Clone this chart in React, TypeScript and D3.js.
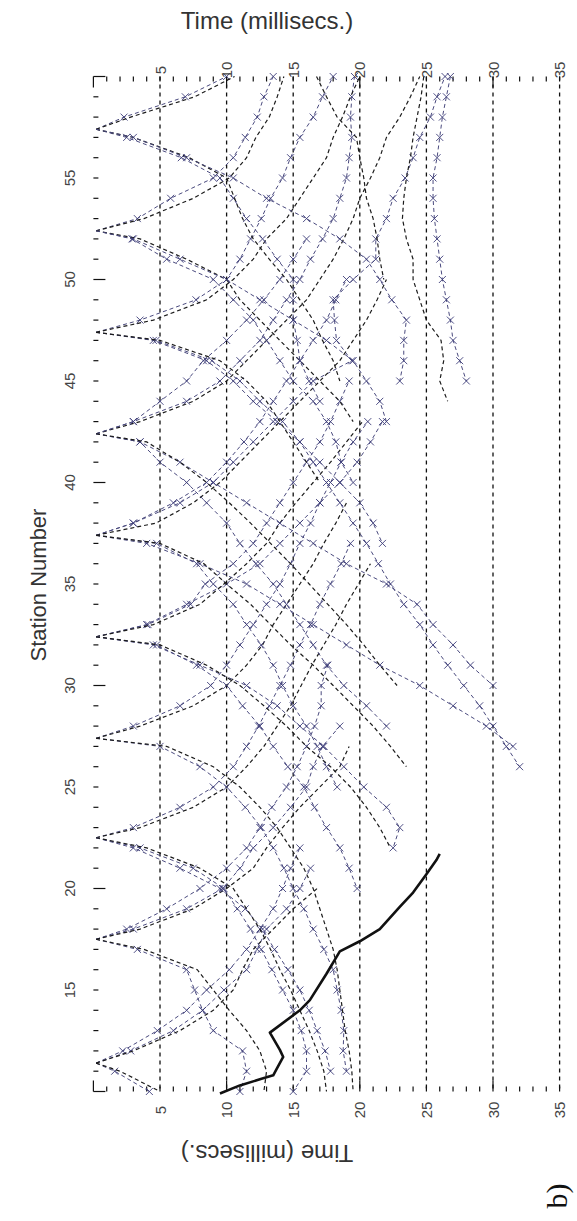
import React from "react";
import * as d3 from "d3";

type Branch = { kind: "b" | "k"; apex?: number; start: number; dir: 1 | -1; t: number[] };

// travel-time picks: times (ms) at consecutive stations
const shot11: Branch[] = [
  { kind: "b", apex: 11.4, start: 12, dir: 1, t: [2.2, 4.8, 7.0, 8.5, 10.2, 11.5, 12.5, 13.5, 14.2, 14.8, 15.5] },
  { kind: "b", apex: 11.4, start: 12, dir: 1, t: [2.8, 6.0, 8.2, 9.8, 11.5, 12.3, 13.0, 14.5, 15.5, 16.3] },
  { kind: "k", apex: 11.4, start: 12, dir: 1, t: [3.0, 6.5, 9.0, 10.5, 11.2, 12.0, 13.5, 15.0, 16.8] },
  { kind: "b", apex: 11.4, start: 11, dir: -1, t: [1.6, 4.2] },
  { kind: "k", apex: 11.4, start: 11, dir: -1, t: [2.0, 5.0] },
];

const shot17: Branch[] = [
  { kind: "b", apex: 17.5, start: 18, dir: 1, t: [2.5, 5.5, 8.0, 10.0, 11.5, 12.5, 13.4, 14.5, 15.3, 16.0, 16.6, 17.1, 17.1, 17.6] },
  { kind: "b", apex: 17.5, start: 18, dir: 1, t: [3.0, 7.0, 9.7, 11.0, 12.0, 13.5, 14.8, 16.0, 16.5, 17.2, 18.5] },
  { kind: "k", apex: 17.5, start: 18, dir: 1, t: [3.5, 7.5, 10.0, 12.0, 13.0, 14.2, 15.5, 17.0, 18.5, 19.2] },
  { kind: "b", apex: 17.5, start: 17, dir: -1, t: [3.3, 7.0, 7.6, 8.2, 9.0, 11.2, 11.5, 11.0] },
  { kind: "k", apex: 17.5, start: 17, dir: -1, t: [3.8, 7.8, 9.0, 10.2, 11.5, 12.5, 13.0, 12.8] },
];

const shot22: Branch[] = [
  { kind: "b", apex: 22.5, start: 23, dir: 1, t: [3.0, 6.5, 9.0, 10.5, 11.5, 12.4, 13.2, 14.0, 14.8, 15.5, 16.3, 17.0, 17.8, 18.6, 19.3] },
  { kind: "k", apex: 22.5, start: 23, dir: 1, t: [3.5, 7.5, 10.0, 11.5, 12.8, 13.8, 14.8, 15.6, 16.4, 17.3, 18.2, 19.0, 19.9, 20.8] },
  { kind: "b", apex: 22.5, start: 22, dir: -1, t: [3.5, 7.5, 9.8, 10.8, 11.8, 12.6, 13.4, 14.2, 15.0, 15.6, 16.0, 16.0, 15.0] },
  { kind: "b", apex: 22.5, start: 22, dir: -1, t: [3.0, 6.5, 9.5, 11.4, 12.7, 13.6, 14.6, 15.5, 16.2, 16.8, 17.4, 17.8] },
  { kind: "k", apex: 22.5, start: 22, dir: -1, t: [4.0, 8.0, 10.5, 11.5, 12.5, 13.3, 14.0, 14.8, 15.5, 16.2, 16.8, 17.3, 17.5] },
];

const shot27: Branch[] = [
  { kind: "b", apex: 27.4, start: 28, dir: 1, t: [3.0, 6.5, 8.8, 10.0, 11.0, 12.0, 13.0, 14.0, 14.8, 15.5, 16.3, 17.0, 17.8, 18.6, 19.5, 20.6] },
  { kind: "k", apex: 27.4, start: 28, dir: 1, t: [3.5, 7.5, 10.0, 11.5, 12.7, 13.5, 14.5, 15.5, 16.5, 17.3, 18.2, 19.0] },
  { kind: "b", apex: 27.4, start: 27, dir: -1, t: [5.0, 8.0, 10.0, 11.4, 12.6, 13.5, 14.3, 15.0, 15.8, 16.5, 17.3, 18.0, 18.3, 18.6, 18.8, 18.75, 19.0] },
  { kind: "k", apex: 27.4, start: 27, dir: -1, t: [5.5, 9.0, 11.0, 12.5, 13.8, 14.8, 15.8, 16.5, 17.0, 17.5, 18.0, 18.3, 18.5, 18.7, 18.9, 19.2, 19.4, 19.5] },
];

const shot32: Branch[] = [
  { kind: "b", apex: 32.4, start: 33, dir: 1, t: [4.1, 7.3, 8.4, 10.5, 12.0, 13.0, 14.0, 15.0, 16.0, 17.0, 17.8, 18.5, 19.2] },
  { kind: "b", apex: 32.4, start: 33, dir: 1, t: [4.0, 7.0, 10.0, 12.5, 14.0, 15.5, 17.0, 18.5, 19.8, 20.8, 21.7] },
  { kind: "k", apex: 32.4, start: 33, dir: 1, t: [4.5, 8.0, 9.8, 11.5, 13.0, 14.0, 15.2, 16.5, 17.8, 19.0, 20.2] },
  { kind: "b", apex: 32.4, start: 32, dir: -1, t: [4.75, 7.75, 10.0, 11.2, 12.5, 13.5, 14.6, 15.8, 16.6, 17.5, 18.5, 19.2, 19.8] },
  { kind: "b", apex: 32.4, start: 32, dir: -1, t: [4.5, 8.0, 11.5, 13.8, 15.5, 17.3, 18.8, 20.3, 22.0, 23.0, 22.5] },
  { kind: "k", apex: 32.4, start: 32, dir: -1, t: [5.0, 8.5, 11.0, 12.8, 14.5, 16.0, 17.8, 19.3, 20.5, 21.5, 22.3] },
];

const shot37: Branch[] = [
  { kind: "b", apex: 37.4, start: 38, dir: 1, t: [3.0, 6.5, 9.0, 10.5, 12.0, 13.5, 15.0, 16.5, 19.4, 18.25, 18.1, 18.0, 19.5, 21.2, 21.2, 22.0, 22.5, 23.4, 24.0, 24.5, 25.3, 25.8, 26.4] },
  { kind: "b", apex: 37.4, start: 38, dir: 1, t: [3.0, 6.0, 8.5, 10.0, 11.3, 12.5, 13.5, 14.5, 15.5, 16.5, 17.5, 18.2, 19.0] },
  { kind: "k", apex: 37.4, start: 38, dir: 1, t: [4.7, 7.5, 9.5, 11.0, 12.5, 14.0, 15.5, 17.0, 18.5, 19.5, 20.5, 21.3, 22.0] },
  { kind: "b", apex: 37.4, start: 37, dir: -1, t: [4.75, 7.75, 9.0, 10.5, 11.5, 12.6, 13.5, 14.2, 15.0, 16.0, 16.8, 17.5, 18.3] },
  { kind: "b", apex: 37.4, start: 37, dir: -1, t: [4.0, 8.0, 11.5, 14.0, 16.5, 19.0, 21.5, 24.5, 27.0, 29.5, 31.5] },
  { kind: "k", apex: 37.4, start: 37, dir: -1, t: [5.0, 8.3, 10.0, 11.8, 13.3, 14.8, 16.5, 18.0, 19.5, 21.0, 22.3, 23.5] },
];

const shot42: Branch[] = [
  { kind: "b", apex: 42.4, start: 43, dir: 1, t: [3.0, 7.0, 9.5, 11.0, 12.5, 13.5, 14.5, 15.5, 16.3, 17.2, 18.0, 18.5, 19.0, 19.2, 19.4, 19.3, 19.4, 19.6] },
  { kind: "k", apex: 42.4, start: 43, dir: 1, t: [3.5, 7.5, 10.0, 11.5, 13.0, 14.5, 16.0, 17.0, 18.0, 18.8, 19.5, 20.0, 20.8, 21.5, 22.0, 23.0, 23.8, 24.5] },
  { kind: "b", apex: 42.4, start: 43, dir: 1, t: [3.0, 5.0, 7.0, 8.25, 10.0, 11.5, 12.8, 14.0, 15.0, 16.0] },
  { kind: "b", apex: 42.4, start: 42, dir: -1, t: [3.5, 5.0, 7.0, 8.5, 10.0, 11.0, 12.2, 13.5, 14.5, 15.5, 16.5, 17.5, 18.8, 20.5, 22.0] },
  { kind: "b", apex: 42.4, start: 42, dir: -1, t: [3.5, 6.5, 9.0, 11.5, 14.0, 16.5, 19.0, 22.0, 24.3, 25.5, 27.0, 28.3, 30.0] },
  { kind: "k", apex: 42.4, start: 42, dir: -1, t: [4.0, 6.5, 8.5, 10.2, 11.8, 13.3, 14.8, 16.2, 17.6, 19.0, 20.3, 21.5, 22.8] },
];

const shot47: Branch[] = [
  { kind: "b", apex: 47.4, start: 48, dir: 1, t: [3.5, 7.7, 10.0, 11.0, 11.8, 12.6, 13.3, 14.2, 14.8, 15.5, 16.5, 17.2, 18.0] },
  { kind: "k", apex: 47.4, start: 48, dir: 1, t: [4.5, 8.5, 10.5, 12.0, 13.0, 14.5, 15.5, 16.5, 17.5, 18.0, 18.7, 19.3, 20.0] },
  { kind: "b", apex: 47.4, start: 47, dir: -1, t: [4.7, 8.9, 11.0, 12.5, 14.2, 15.5, 16.5, 17.5, 18.5, 19.5, 20.5, 21.4, 22.3, 23.3, 24.5, 25.5, 26.6, 27.8, 29.0, 30.0, 31.0, 32.0] },
  { kind: "b", apex: 47.4, start: 47, dir: -1, t: [4.5, 8.5, 10.5, 12.0, 13.8, 15.5, 17.0, 18.5, 20.0, 21.0, 21.7] },
  { kind: "k", apex: 47.4, start: 47, dir: -1, t: [5.0, 9.5, 11.5, 13.0, 14.0, 15.0, 16.0, 17.0] },
];

const shot52: Branch[] = [
  { kind: "b", apex: 52.4, start: 53, dir: 1, t: [3.3, 5.8, 9.0, 10.5, 11.4, 12.3, 12.8, 13.5] },
  { kind: "k", apex: 52.4, start: 53, dir: 1, t: [3.8, 7.5, 10.2, 11.5, 12.2, 13.2, 13.8, 14.3] },
  { kind: "b", apex: 52.4, start: 52, dir: -1, t: [2.9, 5.5, 9.0, 10.5, 12.0, 13.0, 14.0, 15.0, 16.5, 17.5, 18.2, 18.6, 19.5] },
  { kind: "k", apex: 52.4, start: 52, dir: -1, t: [3.5, 7.0, 10.0, 11.0, 12.5, 14.0, 15.5, 17.0, 18.5, 19.5] },
  { kind: "b", apex: 52.4, start: 52, dir: -1, t: [3.0, 6.5, 10.0, 12.5, 15.0, 17.5, 19.5, 20.5, 21.5, 22.0] },
];

const shot57: Branch[] = [
  { kind: "b", apex: 57.4, start: 58, dir: 1, t: [2.3, 6.9, 10.0] },
  { kind: "k", apex: 57.4, start: 58, dir: 1, t: [2.8, 7.6, 10.6] },
  { kind: "b", apex: 57.4, start: 57, dir: -1, t: [2.5, 6.6, 9.5, 10.5, 11.5, 12.7, 13.8, 15.0, 15.0, 15.0, 15.3, 15.5, 16.2, 17.0] },
  { kind: "k", apex: 57.4, start: 57, dir: -1, t: [3.0, 7.2, 10.0, 10.6, 11.2, 12.0, 13.2, 14.5, 15.5, 16.5, 17.2, 18.0, 18.5] },
  { kind: "b", apex: 57.4, start: 57, dir: -1, t: [3.0, 7.0, 10.5, 13.0, 16.0, 18.5, 20.5, 21.5, 22.4, 23.5, 23.3, 23.3, 23.0] },
];

// picks from shots beyond the top of the spread
const offTop: Branch[] = [
  { kind: "k", start: 60, dir: -1, t: [24.8, 24.6, 24.3, 24.0, 23.8, 23.5, 23.3, 23.2, 23.5, 24.0, 24.0, 24.5, 25.0, 26.1, 26.3, 26.0, 26.6] },
  { kind: "b", start: 60, dir: -1, t: [26.8, 26.5, 26.2, 26.0, 25.8, 25.5, 25.5, 25.6, 25.8, 26.0, 26.2, 26.5, 26.8, 27.0, 27.5, 28.0] },
  { kind: "k", start: 60, dir: -1, t: [16.75, 17.5, 18.3, 19.75, 20.0, 20.3, 20.5, 21.0, 21.3, 21.5, 21.8] },
];

// heavy solid curve entering from the bottom
const thickStations = [9.9, 10.3, 10.6, 10.8, 11.1, 11.7, 12.05, 12.9, 14.0, 14.5, 15.8, 16.9, 17.4, 18.0, 19.1, 19.8, 20.7, 21.4, 21.7];
const thickTimes = [9.5, 11.0, 12.5, 13.5, 13.75, 14.25, 14.0, 13.25, 15.5, 16.25, 17.5, 18.5, 20.0, 21.5, 23.0, 24.0, 25.0, 25.75, 26.0];

const timeLabels = [5, 10, 15, 20, 25, 30, 35];
const stationLabels = [15, 20, 25, 30, 35, 40, 45, 50, 55];
const APEX_T = 0.2;

const allBranches = [...shot11, ...shot17, ...shot22, ...shot27, ...shot32, ...shot37, ...shot42, ...shot47, ...shot52, ...shot57, ...offTop];

const W = 577;
const H = 1221;

export default function App() {
  const x = d3.scaleLinear().domain([0, 35]).range([93.4, 559.6]);
  const y = d3.scaleLinear().domain([10, 60]).range([1091.5, 76.5]);
  const line = d3.line<[number, number]>().x((d) => x(d[1])).y((d) => y(d[0]));

  const pts = (b: Branch): [number, number][] => {
    const p: [number, number][] = b.t.map((tv, i) => [b.start + b.dir * i, tv]);
    return b.apex !== undefined ? [[b.apex, APEX_T], ...p] : p;
  };

  const sf = "'Liberation Sans', Arial, sans-serif";
  const timeTicks = d3.range(0, 36);
  const stationTicks = d3.range(10, 61);

  return (
    <svg width={W} height={H} style={{ position: "absolute", left: 0, top: 0, background: "#fff" }}>
      <rect width={W} height={H} fill="#fff" />
      {/* grid */}
      {timeLabels.map((v) => (
        <line key={"g" + v} x1={x(v)} x2={x(v)} y1={y(60)} y2={y(10)} stroke="#111" strokeWidth={1.3} strokeDasharray="4,4" />
      ))}
      {/* top / bottom ticks */}
      {timeTicks.map((v) => {
        const major = v % 10 === 0;
        return (
          <g key={"tt" + v} stroke="#111" strokeWidth={1.2}>
            <line x1={x(v)} x2={x(v)} y1={y(60)} y2={y(60) + (major ? 11 : 5)} />
            <line x1={x(v)} x2={x(v)} y1={y(10)} y2={y(10) - (major ? 11 : 5)} />
          </g>
        );
      })}
      {/* left ticks */}
      {stationTicks.map((v) => (
        <line key={"st" + v} x1={x(0)} x2={x(0) + (v % 10 === 0 ? 12 : 5)} y1={y(v)} y2={y(v)} stroke="#111" strokeWidth={1.2} />
      ))}
      {/* branches */}
      {allBranches.map((b, i) => {
        const p = pts(b);
        const blue = b.kind === "b";
        return (
          <g key={"br" + i}>
            <path d={line(p) || ""} fill="none" stroke={blue ? "#4a4a7e" : "#1c1c1c"} strokeWidth={blue ? 1 : 1.2} strokeDasharray="4,3" />
            {blue &&
              p
                .filter((_, j) => !(b.apex !== undefined && j === 0))
                .map((q, j) => {
                  const cx = x(q[1]);
                  const cy = y(q[0]);
                  return (
                    <path key={j} d={`M${cx - 3.5},${cy - 3.5}L${cx + 3.5},${cy + 3.5}M${cx - 3.5},${cy + 3.5}L${cx + 3.5},${cy - 3.5}`} stroke="#3c3c78" strokeWidth={0.9} />
                  );
                })}
          </g>
        );
      })}
      {/* heavy curve */}
      <path
        d={line(thickStations.map((s, i) => [s, thickTimes[i]] as [number, number])) || ""}
        fill="none"
        stroke="#111"
        strokeWidth={2.6}
        strokeLinejoin="round"
      />
      {/* tick labels */}
      {timeLabels.map((v) => (
        <g key={"tl" + v} fontFamily={sf} fontSize={15} fill="#444">
          <text transform={`translate(${x(v)},70) rotate(-90)`} textAnchor="middle" dominantBaseline="central">{v}</text>
          <text transform={`translate(${x(v)},1110) rotate(-90)`} textAnchor="middle" dominantBaseline="central">{v}</text>
        </g>
      ))}
      {stationLabels.map((v) => (
        <text key={"sl" + v} transform={`translate(69,${y(v)}) rotate(-90)`} textAnchor="middle" dominantBaseline="central" fontFamily={sf} fontSize={15} fill="#444">
          {v}
        </text>
      ))}
      {/* titles */}
      <text x={267} y={20} textAnchor="middle" dominantBaseline="central" fontFamily={sf} fontSize={24} fill="#333">
        Time (millisecs.)
      </text>
      <text transform="translate(267,1153) rotate(180)" textAnchor="middle" dominantBaseline="central" fontFamily={sf} fontSize={24} fill="#333">
        Time (millisecs.)
      </text>
      <text transform="translate(38,585) rotate(-90)" textAnchor="middle" dominantBaseline="central" fontFamily={sf} fontSize={22} fill="#333">
        Station Number
      </text>
      <text transform="translate(556,1196) rotate(-90)" textAnchor="middle" dominantBaseline="central" fontFamily="'Liberation Serif', 'Times New Roman', serif" fontSize={30} fill="#111">
        b)
      </text>
    </svg>
  );
}
